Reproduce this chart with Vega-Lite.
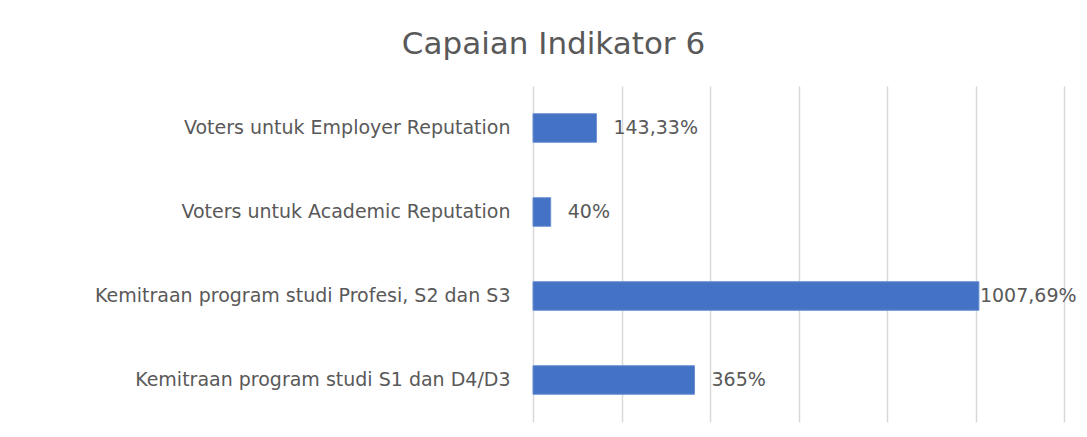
{
  "$schema": "https://vega.github.io/schema/vega-lite/v6.json",
  "autosize": "none",
  "width": 531,
  "height": 336,
  "padding": {"left": 533, "top": 86, "right": 23, "bottom": 15},
  "background": "white",
  "title": {
    "text": "Capaian Indikator 6",
    "anchor": "middle",
    "dx": -245,
    "offset": 25,
    "font": "DejaVu Sans",
    "fontSize": 31,
    "fontWeight": "normal",
    "color": "#595959"
  },
  "data": {
    "values": [
      {"kategori": "Voters untuk Employer Reputation", "nilai": 143.33, "label": "143,33%"},
      {"kategori": "Voters untuk Academic Reputation", "nilai": 40, "label": "40%"},
      {"kategori": "Kemitraan program studi Profesi, S2 dan S3", "nilai": 1007.69, "label": "1007,69%"},
      {"kategori": "Kemitraan program studi S1 dan D4/D3", "nilai": 365, "label": "365%"}
    ]
  },
  "encoding": {
    "y": {
      "field": "kategori",
      "type": "nominal",
      "sort": null,
      "scale": {"paddingInner": 0.66, "paddingOuter": 0.33},
      "axis": {
        "title": null,
        "domain": false,
        "ticks": false,
        "labelPadding": 23,
        "labelLimit": 700,
        "labelFont": "DejaVu Sans",
        "labelFontSize": 19,
        "labelColor": "#595959"
      }
    },
    "x": {
      "field": "nilai",
      "type": "quantitative",
      "scale": {"domain": [0, 1200], "nice": false},
      "axis": {
        "title": null,
        "values": [0, 200, 400, 600, 800, 1000, 1200],
        "labels": false,
        "ticks": false,
        "domain": false,
        "grid": true,
        "gridColor": "#d9d9d9",
        "gridWidth": 1.5
      }
    }
  },
  "layer": [
    {
      "mark": {"type": "bar", "color": "#4472C4", "stroke": "#6a8fd3", "strokeWidth": 1}
    },
    {
      "transform": [{"filter": "datum.nilai < 1000"}],
      "mark": {"type": "text", "align": "left", "baseline": "middle", "dx": 17, "font": "DejaVu Sans", "fontSize": 19, "color": "#595959"},
      "encoding": {"text": {"field": "label"}}
    },
    {
      "transform": [{"filter": "datum.nilai >= 1000"}],
      "mark": {"type": "text", "align": "left", "baseline": "middle", "dx": 1, "font": "DejaVu Sans", "fontSize": 19, "color": "#595959"},
      "encoding": {"text": {"field": "label"}}
    }
  ],
  "config": {"view": {"stroke": null}}
}
